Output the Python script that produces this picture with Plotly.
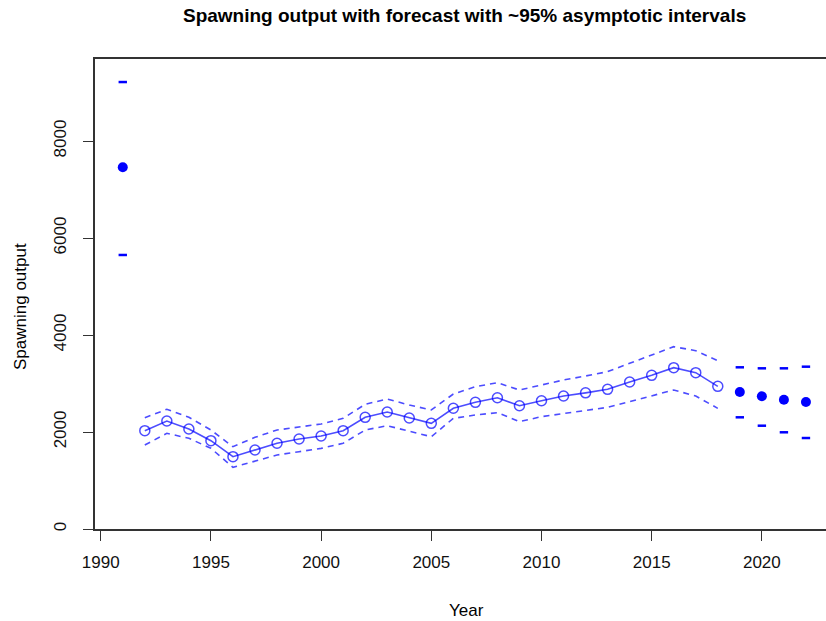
import plotly.graph_objects as go

# ---- data ----
virgin_year = [1991]
virgin_value = [7460]
virgin_upper = [9216]
virgin_lower = [5650]

hist_years = list(range(1992, 2019))
hist_value = [2027, 2227, 2062, 1821, 1491, 1629, 1767, 1856, 1918, 2027,
              2303, 2412, 2289, 2179, 2489, 2612, 2707, 2542, 2645, 2742,
              2807, 2880, 3031, 3169, 3326, 3223, 2942]
hist_upper = [2295, 2468, 2303, 2041, 1697, 1890, 2041, 2110, 2165, 2282,
              2571, 2680, 2557, 2454, 2784, 2935, 3017, 2866, 2969, 3072,
              3155, 3244, 3416, 3588, 3759, 3677, 3471]
hist_lower = [1732, 1973, 1870, 1664, 1272, 1402, 1526, 1594, 1663, 1767,
              2041, 2130, 2021, 1903, 2282, 2351, 2399, 2213, 2316, 2385,
              2454, 2509, 2625, 2742, 2866, 2742, 2488]

fc_years = [2019, 2020, 2021, 2022]
fc_value = [2825, 2736, 2666, 2619]
fc_upper = [3334, 3313, 3313, 3347]
fc_lower = [2303, 2130, 1994, 1876]

x_ticks = [1990, 1995, 2000, 2005, 2010, 2015, 2020]
y_ticks = [0, 2000, 4000, 6000, 8000]

FONT = "Liberation Sans, Arial, sans-serif"
BLUE = "#0000FF"
LBLUE = "rgba(0,0,255,0.7)"

fig = go.Figure()

# dashed interval lines
for band in (hist_upper, hist_lower):
    fig.add_trace(go.Scatter(x=hist_years, y=band, mode="lines",
                             line=dict(color=LBLUE, width=1.6, dash="6px,5px"),
                             hoverinfo="skip", showlegend=False))

# main line with open circles
fig.add_trace(go.Scatter(x=hist_years, y=hist_value, mode="lines+markers",
                         line=dict(color=LBLUE, width=1.6),
                         marker=dict(symbol="circle-open", size=10,
                                     color=LBLUE, line=dict(width=1.5)),
                         showlegend=False))

# point estimates (virgin + forecast)
fig.add_trace(go.Scatter(x=virgin_year + fc_years, y=virgin_value + fc_value,
                         mode="markers",
                         marker=dict(symbol="circle", size=10, color=BLUE),
                         showlegend=False))

# interval end marks
fig.add_trace(go.Scatter(x=virgin_year + fc_years + virgin_year + fc_years,
                         y=virgin_upper + fc_upper + virgin_lower + fc_lower,
                         mode="markers",
                         marker=dict(symbol="line-ew", size=6,
                                     line=dict(color=BLUE, width=2.5)),
                         showlegend=False))

# plot box at page x 95..826, y 59..529
fig.update_layout(
    width=826, height=621,
    margin=dict(l=95, r=0, t=59, b=92),
    paper_bgcolor="white", plot_bgcolor="white",
    font=dict(family=FONT, size=17, color="black"),
    xaxis=dict(range=[1989.74, 2022.91], tickvals=x_ticks,
               ticks="outside", ticklen=10, tickcolor="#333333", tickwidth=1,
               showline=True, linecolor="#333333", linewidth=1.5, mirror=True,
               showgrid=False, zeroline=False, ticklabelstandoff=7,
               tickfont=dict(size=17, color="#111111")),
    yaxis=dict(range=[0, 9691], tickvals=y_ticks,
               ticks="outside", ticklen=10, tickcolor="#333333", tickwidth=1,
               showline=True, linecolor="#333333", linewidth=1.5,
               showgrid=False, zeroline=False, tickangle=-90,
               ticklabelstandoff=10,
               tickfont=dict(size=17, color="#111111")),
    annotations=[
        dict(text="<b>Spawning output with forecast with ~95% asymptotic intervals</b>",
             xref="paper", yref="paper", x=(464 - 95) / 731, y=(529 - 16) / 470,
             showarrow=False, xanchor="center", yanchor="middle",
             font=dict(size=19, family=FONT)),
        dict(text="Year", xref="paper", yref="paper",
             x=(466 - 95) / 731, y=-(621 - 529) / 470,
             showarrow=False, xanchor="center", yanchor="bottom",
             borderpad=0,
             font=dict(size=17, family=FONT)),
        dict(text="Spawning output", xref="paper", yref="paper",
             x=-(95 - 20) / 731, y=(529 - 307) / 470, textangle=-90,
             showarrow=False, xanchor="center", yanchor="middle",
             font=dict(size=17, family=FONT)),
    ],
)

fig.write_html("out.html",
               config={"displayModeBar": False},
               post_script="document.body.style.margin='0px';")
